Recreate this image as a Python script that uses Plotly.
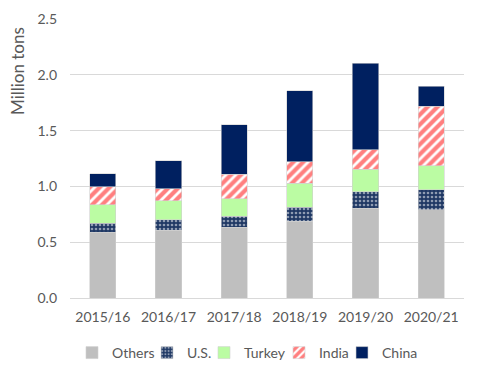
import plotly.graph_objects as go

years = ["2015/16", "2016/17", "2017/18", "2018/19", "2019/20", "2020/21"]
others = [0.59, 0.605, 0.633, 0.687, 0.803, 0.789]
us = [0.08, 0.095, 0.098, 0.128, 0.149, 0.181]
turkey = [0.165, 0.17, 0.159, 0.212, 0.20, 0.215]
india = [0.16, 0.11, 0.221, 0.194, 0.177, 0.535]
china = [0.12, 0.25, 0.442, 0.634, 0.773, 0.176]

font_family = "Lato, Open Sans, sans-serif"
txt = "#595959"
edge = dict(color="#d0d0d0", width=0.6)

fig = go.Figure()
fig.add_bar(name="Others", x=years, y=others, legend="legend",
            marker=dict(color="#BFBFBF", line=edge))
fig.add_bar(name="U.S.", x=years, y=us, legend="legend2",
            marker=dict(color="#1F3864", line=edge,
                        pattern=dict(shape=".", fgcolor="white", size=4, solidity=0.35, fillmode="overlay")))
fig.add_bar(name="Turkey", x=years, y=turkey, legend="legend3",
            marker=dict(color="#BBFCA3", line=edge))
fig.add_bar(name="India", x=years, y=india, legend="legend4",
            marker=dict(color="white", line=edge,
                        pattern=dict(shape="/", fgcolor="#FF0000", size=7, solidity=0.6, fillmode="overlay")))
fig.add_bar(name="China", x=years, y=china, legend="legend5",
            marker=dict(color="#002060", line=edge))

# page has an 8px body margin; figure coordinates are page coordinates minus 8
W, H = 488, 380
legend_left_px = [64, 139, 196, 271, 334]
legend_names = ["legend", "legend2", "legend3", "legend4", "legend5"]
legend_layout = {}
for nm, px in zip(legend_names, legend_left_px):
    legend_layout[nm] = dict(orientation="h", xref="container", yref="container",
                             x=px / W, xanchor="left", y=1 - 345 / H, yanchor="middle",
                             font=dict(size=14, color=txt), itemwidth=30,
                             bgcolor="rgba(0,0,0,0)")

pl, pr, pt, pb = 62, 32, 11, 90
pw, ph = W - pl - pr, H - pt - pb

fig.update_layout(
    barmode="stack",
    bargap=0.6,
    width=W, height=H,
    margin=dict(l=pl, r=pr, t=pt, b=pb, autoexpand=False),
    plot_bgcolor="white", paper_bgcolor="white",
    font=dict(family=font_family, size=14, color=txt),
    showlegend=True,
    yaxis=dict(range=[0, 2.5], dtick=0.5, tickformat=".1f", showgrid=True,
               gridcolor="#D9D9D9", gridwidth=1, zeroline=False, automargin=False,
               ticks="", ticklabelstandoff=12, tickfont=dict(size=14, color=txt)),
    xaxis=dict(showline=True, linecolor="#D9D9D9", linewidth=1, ticks="", automargin=False,
               ticklabelstandoff=6, tickfont=dict(size=14, color=txt)),
    annotations=[dict(text="Million tons", textangle=-90, showarrow=False,
                      xref="paper", yref="paper", x=(10 - pl) / pw, y=(pt + ph - 63) / ph,
                      xanchor="center", yanchor="middle",
                      font=dict(size=17, color=txt))],
    **legend_layout,
)

fig.write_html("out.html")
